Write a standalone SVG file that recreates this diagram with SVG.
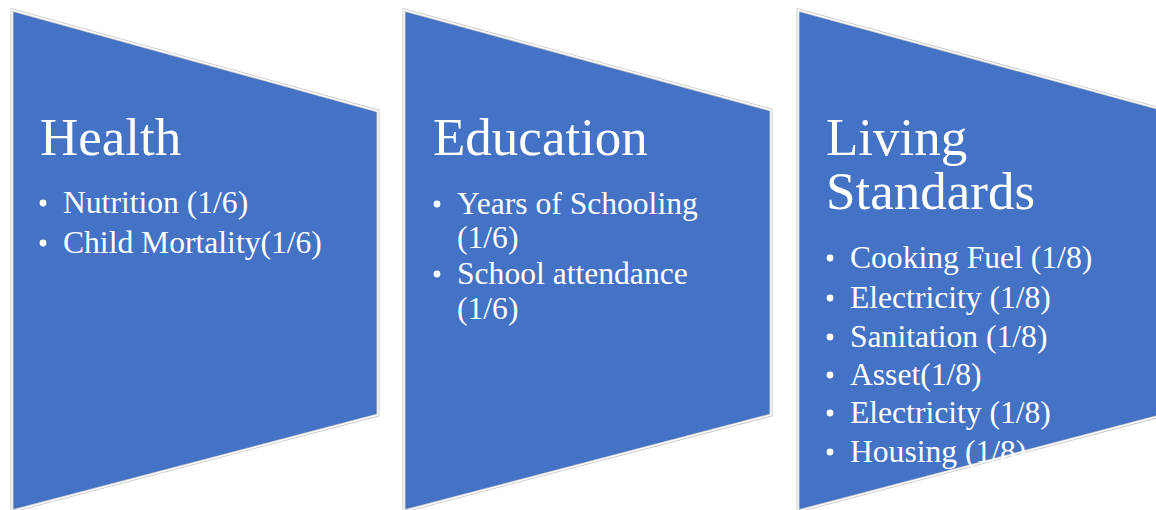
<svg xmlns="http://www.w3.org/2000/svg" width="1156" height="510" viewBox="0 0 1156 510">
<style>
.shape{fill:#4472C4;stroke:#c4c4c4;stroke-width:3;stroke-linejoin:miter}
.inner{fill:none;stroke:#ffffff;stroke-width:1.4;stroke-linejoin:miter}
.title{font-family:"Liberation Serif","Times New Roman",serif;font-size:53px;fill:#ffffff}
.item{font-family:"Liberation Serif","Times New Roman",serif;font-size:31.6px;fill:#ffffff}
.dot{fill:#ffffff}
</style>
<rect width="1156" height="510" fill="#ffffff"/>
<g id="health">
<polygon class="shape" points="12,10 378,111 378,415 12,511"/>
<polygon class="inner" points="12,10 378,111 378,415 12,511"/>
<text class="title" x="40" y="155">Health</text>
<circle class="dot" cx="43" cy="203" r="3.4"/>
<text class="item" x="63" y="213">Nutrition (1/6)</text>
<circle class="dot" cx="43" cy="243" r="3.4"/>
<text class="item" x="63" y="253">Child Mortality(1/6)</text>
</g>
<g id="education">
<polygon class="shape" points="404,10 771,110 771,415 404,511"/>
<polygon class="inner" points="404,10 771,110 771,415 404,511"/>
<text class="title" x="433" y="155">Education</text>
<circle class="dot" cx="437" cy="204" r="3.4"/>
<text class="item" x="457" y="214">Years of Schooling</text>
<text class="item" x="457" y="248">(1/6)</text>
<circle class="dot" cx="437" cy="274" r="3.4"/>
<text class="item" x="457" y="284">School attendance</text>
<text class="item" x="457" y="319">(1/6)</text>
</g>
<g id="living-standards">
<polygon class="shape" points="798,10 1164,110 1164,415 798,511"/>
<polygon class="inner" points="798,10 1164,110 1164,415 798,511"/>
<text class="title" x="826" y="155">Living</text>
<text class="title" x="826" y="209">Standards</text>
<circle class="dot" cx="830" cy="258" r="3.4"/>
<text class="item" x="850" y="268">Cooking Fuel (1/8)</text>
<circle class="dot" cx="830" cy="298" r="3.4"/>
<text class="item" x="850" y="308">Electricity (1/8)</text>
<circle class="dot" cx="830" cy="337" r="3.4"/>
<text class="item" x="850" y="347">Sanitation (1/8)</text>
<circle class="dot" cx="830" cy="375" r="3.4"/>
<text class="item" x="850" y="385">Asset(1/8)</text>
<circle class="dot" cx="830" cy="413" r="3.4"/>
<text class="item" x="850" y="423">Electricity (1/8)</text>
<circle class="dot" cx="830" cy="452" r="3.4"/>
<text class="item" x="850" y="462">Housing (1/8)</text>
</g>
<g id="connectors"/>
</svg>
